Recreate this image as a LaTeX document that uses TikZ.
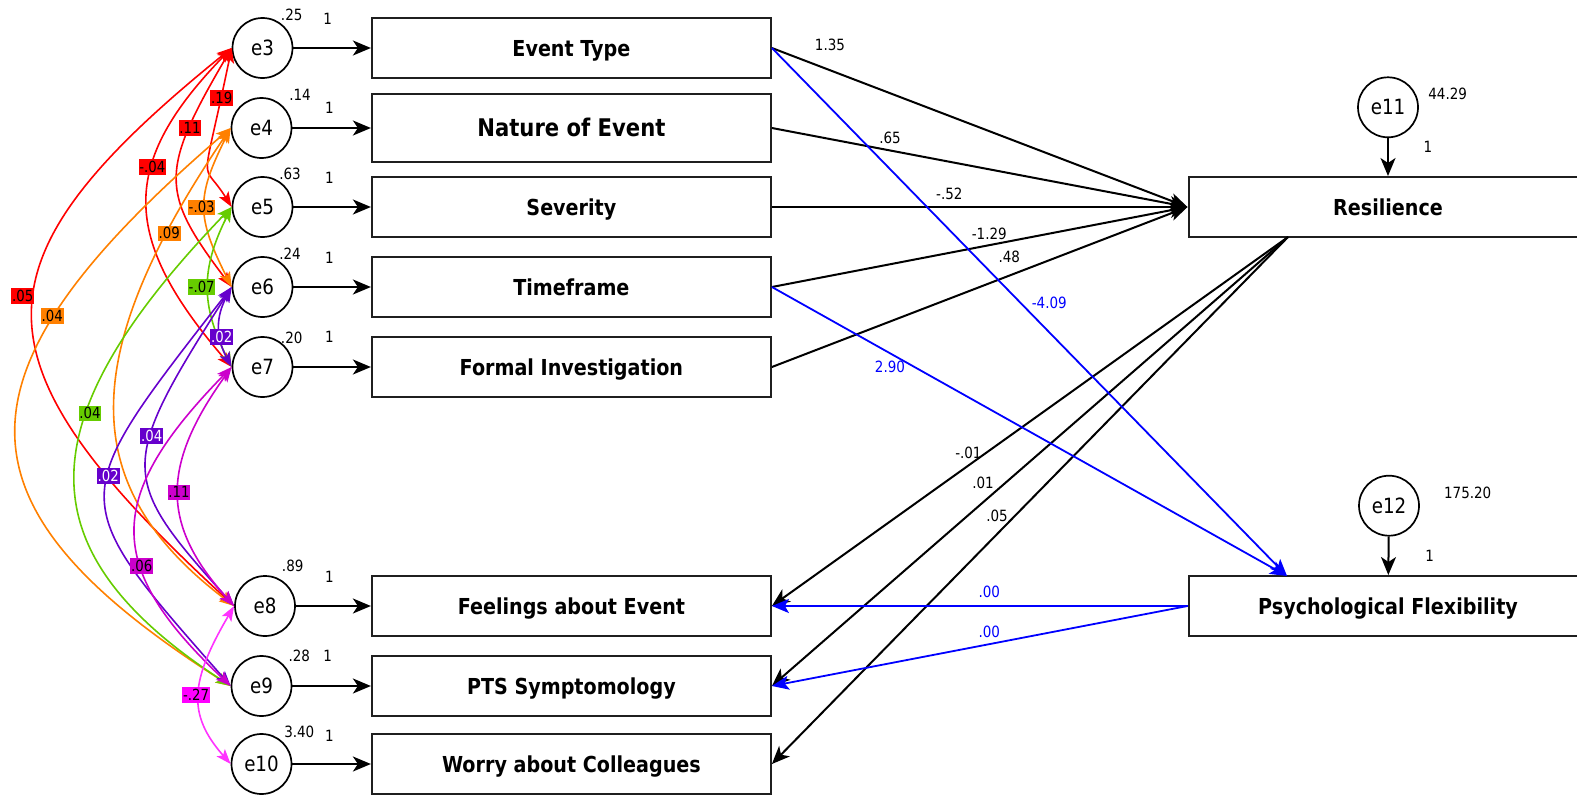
\documentclass[tikz,border=0pt]{standalone}
\usepackage{fontspec}
\setmainfont{DejaVu Sans}[FakeStretch=0.87]
\usetikzlibrary{arrows.meta}
\definecolor{cvred}{HTML}{FF0000}
\definecolor{cvorange}{HTML}{FF8000}
\definecolor{cvgreen}{HTML}{66CC00}
\definecolor{cvpurple}{HTML}{6600CC}
\definecolor{cvmagenta}{HTML}{CC00CC}
\definecolor{cvpink}{HTML}{FF33FF}
\definecolor{cvpinklab}{HTML}{FF00FF}
\definecolor{pathblue}{HTML}{0000FF}
\newcommand\semboxfont{\fontsize{22pt}{26pt}\selectfont\bfseries}
\newcommand\semnumfont{\fontsize{15.5pt}{18pt}\selectfont}
\begin{document}
\begin{tikzpicture}[x=1pt,y=-1pt,
  errc/.style={circle, draw=black, line width=1.7pt, minimum size=60pt, inner sep=0pt,
    font=\fontsize{21pt}{24pt}\selectfont, text height=15.3pt, text depth=0pt},
  obs/.style={rectangle, draw=black!88, line width=2pt, minimum width=399pt,
    minimum height=60pt, inner sep=0pt, font=\semboxfont, text height=16pt, text depth=0pt},
  regpath/.style={draw=black, line width=2pt, -{Stealth[length=18pt,width=15pt,inset=5pt]}},
  bpath/.style={draw=pathblue, line width=1.8pt, -{Stealth[length=17pt,width=14pt,inset=4pt]}},
  num/.style={inner sep=0pt, font=\semnumfont, text height=11.3pt, text depth=0pt},
  bnum/.style={num, text=pathblue},
  cov/.style={draw=#1, line width=1.6pt,
    {Stealth[length=15pt,width=11pt,inset=3.5pt]}-{Stealth[length=15pt,width=11pt,inset=3.5pt]}},
  covlab/.style={fill=#1, inner xsep=0.8pt, inner ysep=2.2pt, text height=11.2pt,
    text depth=0pt, font=\fontsize{15.3pt}{18pt}\selectfont},
]
\useasboundingbox (0,0) rectangle (1577,795);

% error terms of the observed variables
\node[errc] (e3) at (262.5,48) {e3};
\node[errc] (e4) at (261.5,128) {e4};
\node[errc] (e5) at (262.5,207) {e5};
\node[errc] (e6) at (262.5,287) {e6};
\node[errc] (e7) at (262.5,367) {e7};
\node[errc] (e8) at (265,606) {e8};
\node[errc] (e9) at (261.5,686) {e9};
\node[errc] (e10) at (261.5,764) {e10};

% observed variables
\node[obs] (et) at (571.4,48) {Event Type};
\node[obs, minimum height=68pt, font=\fontsize{24.3pt}{28pt}\selectfont\bfseries, text height=17.7pt] (ne) at (571.4,128) {Nature of Event};
\node[obs] (sv) at (571.4,207) {Severity};
\node[obs] (tf) at (571.4,287) {Timeframe};
\node[obs] (fi) at (571.4,367) {Formal Investigation};
\node[obs] (fe) at (571.4,606) {Feelings about Event};
\node[obs] (pts) at (571.4,686) {PTS Symptomology};
\node[obs] (wo) at (571.4,764) {Worry about Colleagues};

% mediators and their disturbances
\node[obs] (res) at (1388,207) {Resilience};
\node[obs] (psy) at (1388,606) {Psychological Flexibility};
\node[errc] (e11) at (1388,107.3) {e11};
\node[errc] (e12) at (1389,505.7) {e12};
\coordinate (rq) at (1288,237);
\coordinate (pq) at (1287,576);

% variances and fixed loadings
\node[num] (v3) at (291.7,15.3) {.25};   \node[num] (w3) at (327.7,19) {1};
\node[num] (v4) at (300,95) {.14};       \node[num] (w4) at (329.3,108.3) {1};
\node[num] (v5) at (290,174.3) {.63};    \node[num] (w5) at (329.3,178) {1};
\node[num] (v6) at (290,254.3) {.24};    \node[num] (w6) at (329.3,257.7) {1};
\node[num] (v7) at (291.7,337.7) {.20};  \node[num] (w7) at (329.3,337.3) {1};
\node[num] (v8) at (292.7,566) {.89};    \node[num] (w8) at (329.3,576.7) {1};
\node[num] (v9) at (299.3,655.7) {.28};  \node[num] (w9) at (327.7,655.7) {1};
\node[num] (v10) at (299.3,732.3) {3.40}; \node[num] (w10) at (329.3,735.7) {1};
\node[num] (v11) at (1447.7,94.3) {44.29}; \node[num] (w11) at (1428,147.3) {1};
\node[num] (v12) at (1467.7,493.3) {175.20}; \node[num] (w12) at (1429.6,555.7) {1};

% error paths
\draw[regpath] (e3) -- (et);
\draw[regpath] (e4) -- (ne);
\draw[regpath] (e5) -- (sv);
\draw[regpath] (e6) -- (tf);
\draw[regpath] (e7) -- (fi);
\draw[regpath] (e8) -- (fe);
\draw[regpath] (e9) -- (pts);
\draw[regpath] (e10) -- (wo);
\draw[regpath] (e11) -- (res);
\draw[regpath] (e12) -- (psy);

% predictors to resilience
\draw[regpath] (et.east) -- (res.west);
\draw[regpath] (ne.east) -- (res.west);
\draw[regpath] (sv.east) -- (res.west);
\draw[regpath] (tf.east) -- (res.west);
\draw[regpath] (fi.east) -- (res.west);

% resilience to outcomes
\draw[regpath] (rq) -- (fe.east);
\draw[regpath] (rq) -- (pts.east);
\draw[regpath] (rq) -- (wo.east);

% paths through psychological flexibility
\draw[bpath] (et.east) -- (pq);
\draw[bpath] (tf.east) -- (pq);
\draw[bpath] (psy.west) -- (fe.east);
\draw[bpath] (psy.west) -- (pts.east);

% path coefficients
\node[num] (c1) at (830,45) {1.35};
\node[num] (c2) at (890,137.7) {.65};
\node[num] (c3) at (949.3,194.3) {-.52};
\node[num] (c4) at (989.3,234.3) {-1.29};
\node[num] (c5) at (1009.3,257.3) {.48};
\node[bnum] (c6) at (1049.3,303.3) {-4.09};
\node[bnum] (c7) at (890,366.7) {2.90};
\node[num] (c8) at (968.4,453.3) {-.01};
\node[num] (c9) at (983,483.3) {.01};
\node[num] (c10) at (997,516) {.05};
\node[bnum] (c11) at (989.3,592.3) {.00};
\node[bnum] (c12) at (989.3,632.3) {.00};

% covariances among error terms
\draw[cov=cvred] (e3.west) .. controls +(-31,150) and +(-31,-50) .. (e5.west);
\draw[cov=cvred] (e3.west) .. controls +(-72,123) and +(-72,-95) .. (e6.west);
\draw[cov=cvred] (e3.west) .. controls +(-112,115) and +(-112,-130) .. (e7.west);
\draw[cov=cvred] (e3.west) .. controls +(-266,215) and +(-266,-245) .. (e8.west);
\draw[cov=cvorange] (e4.west) .. controls +(-35,70) and +(-35,-70) .. (e6.west);
\draw[cov=cvorange] (e4.west) .. controls +(-156,230) and +(-156,-118) .. (e8.west);
\draw[cov=cvorange] (e4.west) .. controls +(-285,245) and +(-285,-181) .. (e9.west);
\draw[cov=cvgreen] (e5.west) .. controls +(-31,62) and +(-31,-62) .. (e7.west);
\draw[cov=cvgreen] (e5.west) .. controls +(-207,215) and +(-207,-135) .. (e9.west);
\draw[cov=cvpurple] (e6.west) .. controls +(-16,30) and +(-16,-30) .. (e7.west);
\draw[cov=cvpurple] (e6.west) .. controls +(-115,180) and +(-115,-128) .. (e8.west);
\draw[cov=cvpurple] (e6.west) .. controls +(-167,215) and +(-167,-190) .. (e9.west);
\draw[cov=cvmagenta] (e7.west) .. controls +(-72,100) and +(-72,-80) .. (e8.west);
\draw[cov=cvmagenta] (e7.west) .. controls +(-127,130) and +(-127,-120) .. (e9.west);
\draw[cov=cvpink] (e8.west) .. controls +(-44,75) and +(-44,-50) .. (e10.west);

% covariance estimates
\node[covlab=cvred] (k1) at (221.7,97.7) {.19};
\node[covlab=cvred] (k2) at (190,127.7) {.11};
\node[covlab=cvred] (k3) at (152.3,166.7) {-.04};
\node[covlab=cvred] (k4) at (22.7,296) {.05};
\node[covlab=cvorange] (k5) at (201.7,207.3) {-.03};
\node[covlab=cvorange] (k6) at (169.3,233.3) {.09};
\node[covlab=cvorange] (k7) at (52.3,316) {.04};
\node[covlab=cvgreen] (k8) at (201.7,286.7) {-.07};
\node[covlab=cvgreen] (k9) at (90,413.3) {.04};
\node[covlab=cvpurple, text=white] (k10) at (221.7,336.7) {.02};
\node[covlab=cvpurple, text=white] (k11) at (151.7,436) {.04};
\node[covlab=cvpurple, text=white] (k12) at (108.3,476) {.02};
\node[covlab=cvmagenta] (k13) at (179,492.3) {.11};
\node[covlab=cvmagenta] (k14) at (141.7,565.7) {.06};
\node[covlab=cvpinklab] (k15) at (196,695) {-.27};
\end{tikzpicture}
\end{document}
